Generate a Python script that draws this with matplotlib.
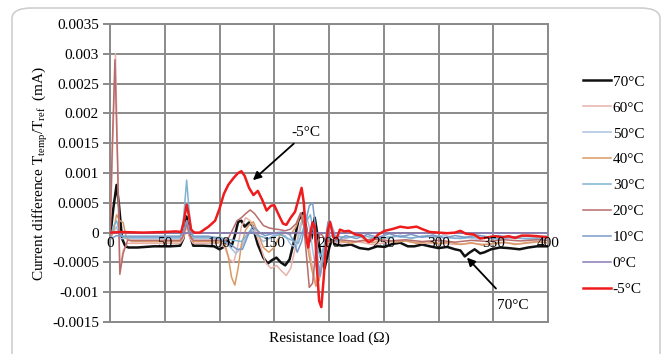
import matplotlib
matplotlib.use("Agg")
import matplotlib.pyplot as plt
from matplotlib.patches import FancyBboxPatch

plt.rcParams["font.family"] = ["Liberation Serif", "DejaVu Serif"]
plt.rcParams["mathtext.fontset"] = "custom"
plt.rcParams["mathtext.rm"] = "Liberation Serif"

# current difference (mA) vs resistance load (ohm), one trace per temperature
x_70 = [0, 3, 6, 8, 11, 14, 17, 25, 40, 55, 64, 67, 70, 73, 76, 85, 95, 100, 104, 107,
        111, 114, 117, 120, 123, 127, 130, 135, 140, 144, 148, 152, 156, 160, 164, 168,
        172, 176, 179, 181, 184, 187, 190, 193, 196, 199, 202, 206, 212, 220, 228, 236,
        244, 251, 258, 265, 272, 278, 285, 292, 300, 308, 315, 320, 324, 328, 333, 338,
        342, 348, 356, 364, 374, 382, 390, 400]
y_70 = [-0.0001, 0.0004, 0.0008, 0.0005, -0.0001, -0.00023, -0.00025, -0.00025, -0.00023,
        -0.00023, -0.00022, -0.0001, 0.00027, -0.00005, -0.00022, -0.00022, -0.00023,
        -0.00028, -0.00024, -0.00012, -0.00023, -0.00005, 0.00018, 0.0002, 0.0001,
        0.00017, 0.00012, -0.0002, -0.00042, -0.00052, -0.00046, -0.00042, -0.0005,
        -0.00055, -0.00045, -0.00015, 0.0002, 0.00033, 0.0001, -0.00017, -0.0001, 0.00025,
        -0.0001, -0.00045, -0.0006, -0.00035, -0.00012, -0.0002, -0.00022, -0.0002,
        -0.00026, -0.00028, -0.00023, -0.00024, -0.00019, -0.00017, -0.00023, -0.00023,
        -0.0002, -0.00023, -0.00026, -0.00024, -0.00028, -0.0003, -0.0004, -0.00034,
        -0.00028, -0.00035, -0.00033, -0.00028, -0.00025, -0.00026, -0.00028, -0.00025,
        -0.00023, -0.00023]

x_60 = [0, 2, 5, 7, 9, 12, 16, 30, 50, 64, 67, 70, 73, 76, 90, 100, 105, 109, 113, 117,
        120, 124, 128, 132, 137, 142, 147, 152, 157, 161, 165, 170, 174, 177, 180, 184,
        188, 191, 195, 200, 210, 225, 240, 255, 270, 285, 300, 315, 330, 345, 360, 375,
        390, 400]
y_60 = [-0.0001, 0.0012, 0.003, 0.0012, -0.0006, -0.0003, -0.00018, -0.00018, -0.00018,
        -0.00018, -0.0001, 0.0001, -0.0001, -0.00018, -0.00018, -0.00018, -0.00025,
        -0.00045, -0.0005, -0.0002, 0.0001, 0.00025, 0.0002, 0.00005, -0.0002, -0.0005,
        -0.0006, -0.00055, -0.00065, -0.00072, -0.0006, -0.0002, 0.00015, 0.00025, 0.0,
        -0.0005, -0.00085, -0.0007, -0.0003, -0.00015, -0.00017, -0.00015, -0.0002,
        -0.00016, -0.00014, -0.00018, -0.00017, -0.0002, -0.00018, -0.0002, -0.00017,
        -0.00019, -0.00016, -0.00017]

x_50 = [0, 3, 6, 9, 12, 16, 30, 50, 64, 67, 70, 73, 76, 90, 100, 105, 110, 115, 120, 125,
        130, 135, 140, 145, 150, 160, 165, 170, 175, 178, 182, 186, 190, 194, 198, 202,
        206, 215, 225, 235, 245, 255, 265, 275, 285, 295, 305, 315, 325, 335, 345, 355,
        365, 375, 390, 400]
y_50 = [-0.0001, 0.0, 0.0001, -0.0001, -0.0001, -0.0001, -0.0001, -0.0001, -0.0001,
        0.0001, 0.0005, 0.0001, -0.0001, -0.0001, -0.0001, -0.00015, -0.00025, -0.00035,
        -0.00025, -0.00005, 0.00005, -0.00005, -0.00015, -0.0001, -0.00003, -0.00005,
        -0.0002, -0.00025, 0.00015, 0.00035, 0.0001, -0.0004, -0.0007, -0.0004, 0.00005,
        0.00015, -0.00005, -0.0001, -0.00005, -0.00012, -0.00006, -0.0001, -0.00004,
        -0.0001, -0.00006, -0.00009, -0.00004, -0.0001, -0.00007, -0.00011, -0.00008,
        -0.00012, -0.00009, -0.0001, -0.00012, -0.0001]

x_40 = [0, 3, 6, 9, 12, 15, 20, 30, 50, 64, 67, 70, 73, 76, 90, 100, 105, 108, 111, 114,
        117, 120, 124, 128, 131, 135, 140, 145, 150, 155, 160, 165, 170, 174, 177, 180,
        184, 188, 191, 195, 200, 210, 220, 230, 240, 250, 260, 270, 280, 290, 300, 310,
        320, 330, 340, 350, 360, 370, 380, 390, 400]
y_40 = [-0.0001, 0.0, 0.0003, 0.0002, 0.00017, -0.0001, -0.00015, -0.00015, -0.00015,
        -0.00015, -0.00005, 0.0002, -0.00005, -0.00015, -0.00015, -0.00016, -0.0002,
        -0.0004, -0.00075, -0.00088, -0.0006, -0.0002, 0.00005, 0.00015, 0.00018, 0.0,
        -0.00025, -0.00033, -0.00025, -0.00005, 0.0, -0.00003, 0.0001, 0.00032, 0.00025,
        -0.0002, -0.0006, -0.0009, -0.0008, -0.0004, -0.00015, -0.00014, -0.00018,
        -0.00013, -0.00017, -0.00012, -0.00016, -0.00014, -0.00018, -0.00015, -0.00019,
        -0.00016, -0.0002, -0.00017, -0.00021, -0.00018, -0.00016, -0.0002, -0.00017,
        -0.00015, -0.00017]

x_30 = [0, 3, 6, 9, 12, 16, 30, 50, 64, 67, 70, 73, 76, 90, 100, 110, 120, 128, 135, 145,
        155, 165, 172, 178, 183, 188, 192, 197, 202, 215, 230, 245, 260, 275, 290, 305,
        320, 335, 350, 365, 380, 400]
y_30 = [-0.0001, 0.0001, 0.0002, 0.0, -0.00008, -0.00008, -0.00008, -0.00008, -0.00008,
        0.0002, 0.00088, 0.0002, -0.00008, -0.00008, -0.00008, -0.00012, -0.00015,
        0.00003, -0.00005, -0.0001, -0.00003, -0.00012, -0.00018, 0.00015, 0.0003,
        -0.0002, -0.0004, -0.00015, -0.00005, -0.00008, -0.00005, -0.0001, -0.00006,
        -0.00009, -0.00005, -0.00008, -0.0001, -0.00007, -0.0001, -0.00008, -0.0001,
        -0.00009]

x_20 = [0, 2, 4.5, 7, 9, 12, 16, 30, 50, 64, 67, 70, 73, 76, 90, 100, 104, 108, 112, 116,
        120, 124, 128, 132, 136, 140, 145, 150, 155, 160, 165, 170, 174, 177, 180, 182,
        185, 188, 192, 196, 200, 210, 225, 240, 255, 270, 285, 300, 315, 330, 345, 360,
        375, 390, 400]
y_20 = [-0.0001, 0.0014, 0.0029, 0.0011, -0.0007, -0.00035, -0.00013, -0.00013, -0.00013,
        -0.00013, -0.00005, 0.00015, -0.00005, -0.00013, -0.00013, -0.00013, -0.00015,
        -0.0001, 0.00005, 0.0002, 0.00025, 0.00032, 0.00038, 0.00032, 0.00022, 0.00012,
        0.00008, 0.00006, 0.00005, 0.00003, 0.00006, 0.00015, 0.00033, 0.0001, -0.0005,
        -0.00092, -0.00085, -0.0003, 0.0, -0.0001, -0.00015, -0.00012, -0.00015,
        -0.00011, -0.00014, -0.00012, -0.00015, -0.00013, -0.00016, -0.00013, -0.00015,
        -0.00012, -0.00014, -0.00012, -0.00013]

x_10 = [0, 3, 6, 9, 12, 16, 30, 50, 64, 67, 70, 73, 76, 90, 100, 105, 110, 116, 121, 126,
        130, 134, 138, 142, 146, 152, 158, 164, 168, 171, 175, 179, 182, 185, 187, 190,
        192, 195, 199, 203, 207, 215, 225, 235, 245, 255, 265, 275, 285, 295, 305, 315,
        325, 335, 345, 355, 365, 375, 390, 400]
y_10 = [-0.0001, -0.00008, -0.00005, -0.00006, -0.00006, -0.00006, -0.00006, -0.00006,
        -0.00006, 0.0, 0.0002, 0.0, -0.00006, -0.00006, -0.0001, -0.00015, -0.0002,
        -0.00028, -0.00028, -0.00005, 0.0001, 0.00005, -0.00002, -0.00005, -0.00003, 0.0,
        0.00001, -0.00003, -0.00015, -0.00033, -0.00015, 0.0002, 0.00045, 0.0005, 0.0002,
        -0.0005, -0.00073, -0.0004, 0.00018, 0.00005, -0.00015, -0.00005, -0.0001,
        -0.00003, -0.00008, -0.00002, -0.00007, -0.00003, -0.00008, -0.00004, -0.00009,
        -0.00005, -0.00008, -0.00004, -0.00007, -0.00005, -0.00008, -0.00006, -0.00007,
        -0.00006]

x_0 = [0, 100, 200, 300, 400]
y_0 = [0.0, 0.0, 0.0, 0.0, 0.0]

x_m5 = [0, 10, 30, 50, 60, 65, 67, 70, 72, 74, 77, 82, 90, 96, 100, 104, 108, 113, 117,
        120, 123, 127, 131, 135, 139, 143, 147, 150, 154, 158, 161, 165, 169, 172, 175,
        177, 179, 181, 183, 185, 187, 189, 191, 193, 195, 197, 199, 201, 204, 207, 210,
        214, 218, 224, 230, 236, 240, 245, 251, 258, 265, 272, 280, 285, 292, 300, 308,
        315, 320, 325, 332, 338, 345, 352, 358, 364, 370, 376, 382, 390, 400]
y_m5 = [0.0, 0.00001, 0.0, 0.00001, 0.00002, 0.00001, 0.00015, 0.00047, 0.0003, 0.00005,
        0.0, 0.0, 0.0001, 0.0002, 0.0004, 0.00065, 0.0008, 0.00092, 0.001, 0.00103,
        0.00095, 0.00075, 0.00063, 0.0007, 0.00055, 0.00037, 0.00045, 0.00046, 0.0003,
        0.00015, 0.00013, 0.00025, 0.00035, 0.00055, 0.00075, 0.0005, -0.00005,
        -0.00025, 0.0, 0.00017, 0.0001, -0.0006, -0.00115, -0.00125, -0.0008, -0.0003,
        0.00005, 0.00018, -0.00008, -0.0001, 0.00005, 0.00002, 0.00003, -0.00003,
        -0.00005, -0.00016, -0.00013, -0.00003, 0.00003, 0.00006, 0.0001, 0.00008,
        0.0001, 0.00006, 0.00001, 0.0, -0.00001, 0.0, 0.00003, -0.00002, -0.00003,
        -0.0001, -0.00008, -0.00006, -0.00008, -0.00006, -0.00009, -0.00005, -0.00005,
        -0.00006, -0.00008]

labels = ["70°C", "60°C", "50°C", "40°C", "30°C", "20°C", "10°C", "0°C", "-5°C"]
xs = [x_70, x_60, x_50, x_40, x_30, x_20, x_10, x_0, x_m5]
ys = [y_70, y_60, y_50, y_40, y_30, y_20, y_10, y_0, y_m5]
colors = ["#111111", "#e8b2aa", "#a9c2e2", "#d99a66", "#7fb3cf",
          "#b86c6c", "#7b9bc7", "#8a7cb6", "#ee1c1c"]
widths = [1.8, 1.1, 1.1, 1.1, 1.1, 1.1, 1.1, 1.1, 1.8]

x_ticks = [0, 50, 100, 150, 200, 250, 300, 350, 400]
y_ticks = [-0.0015, -0.001, -0.0005, 0, 0.0005, 0.001, 0.0015, 0.002, 0.0025, 0.003, 0.0035]
y_ticklabels = ["-0.0015", "-0.001", "-0.0005", "0", "0.0005", "0.001", "0.0015",
                "0.002", "0.0025", "0.003", "0.0035"]

fig = plt.figure(figsize=(6.64, 3.54), dpi=100)
# rounded card outline behind everything
card = FancyBboxPatch((12 / 664, -0.1), 648 / 664, 1 - 8 / 354 + 0.1,
                      boxstyle="round,pad=0,rounding_size=0.03",
                      transform=fig.transFigure, facecolor="white",
                      edgecolor="#cfcfcf", linewidth=1.2, zorder=-10)
fig.patches.append(card)
ax = fig.add_axes([110 / 664, 1 - 322 / 354, 438 / 664, 298 / 354])
ax.set_facecolor("none")

for xv, yv, c, w, lab in zip(xs, ys, colors, widths, labels):
    ax.plot(xv, yv, color=c, lw=w, label=lab, zorder=3)

ax.set_xlim(0, 400)
ax.set_ylim(-0.0015, 0.0035)
ax.set_xticks(x_ticks)
ax.set_xticklabels([])
ax.set_yticks(y_ticks)
ax.set_yticklabels(y_ticklabels, fontsize=11)
ax.tick_params(axis="x", length=0)
ax.tick_params(axis="y", length=5, width=1.4, color="#8a8a8a", pad=3)
ax.grid(True, color="#8a8a8a", lw=1.4, zorder=0)
for s in ax.spines.values():
    s.set_color("#8a8a8a")
    s.set_linewidth(1.4)

# x tick labels sit just under the zero line
for t in x_ticks:
    ax.annotate(str(t), (t, 0), xytext=(0, -3), textcoords="offset points",
                ha="center", va="top", fontsize=11, zorder=4)

ax.set_xlabel("Resistance load (Ω)", fontsize=11, labelpad=3)
ax.set_ylabel(r"Current difference T$_{\rm temp}$/T$_{\rm ref}$  (mA)", fontsize=11,
              labelpad=1)

ax.annotate("-5°C", xy=(130.5, 0.00088), xytext=(166, 0.00168), fontsize=11,
            ha="left", va="center",
            arrowprops=dict(arrowstyle="-|>", color="black", lw=1.3,
                            mutation_scale=12, shrinkA=2, shrinkB=0))
ax.annotate("70°C", xy=(326, -0.00042), xytext=(353, -0.00123), fontsize=11,
            ha="left", va="center",
            arrowprops=dict(arrowstyle="-|>", color="black", lw=1.3,
                            mutation_scale=12, shrinkA=8, shrinkB=0))

leg = ax.legend(loc="upper left", bbox_to_anchor=(583 / 664, 1 - 75 / 354),
                bbox_transform=fig.transFigure, frameon=False, fontsize=11,
                handlelength=1.8, handletextpad=0.15, labelspacing=0.8,
                borderaxespad=0, borderpad=0)

fig.savefig("out.png", dpi=100)
